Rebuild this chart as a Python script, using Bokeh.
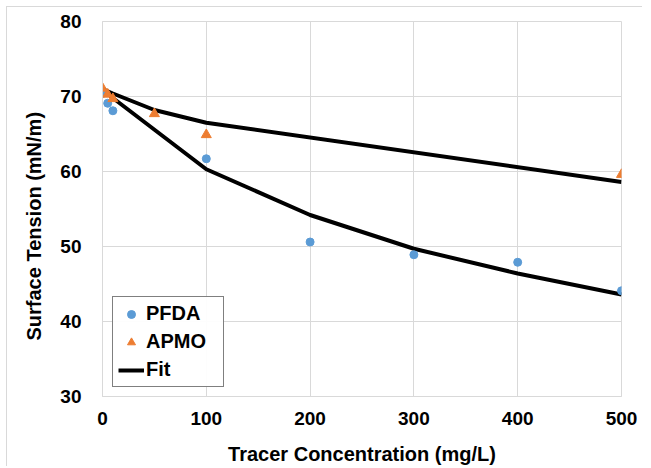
from bokeh.plotting import figure
from bokeh.models import FixedTicker, Legend, LegendItem, Range1d, Title
from bokeh.embed import file_html
from bokeh.resources import INLINE

# Data
pfda_conc = [0, 5, 10, 100, 200, 300, 400, 500]
pfda_st = [70.4, 69.1, 68.1, 61.7, 50.6, 48.9, 47.9, 44.1]
apmo_conc = [0, 5, 10, 50, 100, 500]
apmo_st = [71.1, 70.3, 69.7, 67.7, 64.9, 59.6]
fit_pfda_conc = [0, 5, 10, 100, 200, 300, 400, 500]
fit_pfda_st = [71.0, 70.4, 69.8, 60.3, 54.2, 49.7, 46.4, 43.6]
fit_apmo_conc = [0, 5, 10, 50, 100, 500]
fit_apmo_st = [71.0, 70.7, 70.4, 68.2, 66.5, 58.6]
x_ticks = [0, 100, 200, 300, 400, 500]
y_ticks = [30, 40, 50, 60, 70, 80]

FONT = "Liberation Sans"
GRID = "#d9d9d9"

p = figure(width=636, height=460, output_backend="svg", toolbar_location=None,
           x_range=Range1d(0, 500), y_range=Range1d(30, 80),
           min_border_left=95, min_border_right=22, min_border_top=14, min_border_bottom=71)
p.styles = {"margin-left": "6px", "margin-top": "6px",
            "border-left": "1px solid #d9d9d9", "border-top": "1px solid #d9d9d9"}

p.outline_line_color = GRID
p.xgrid.grid_line_color = GRID
p.ygrid.grid_line_color = GRID
p.xaxis.ticker = FixedTicker(ticks=x_ticks)
p.yaxis.ticker = FixedTicker(ticks=y_ticks)
for ax in (p.xaxis, p.yaxis):
    ax.axis_line_color = GRID
    ax.major_tick_line_color = None
    ax.minor_tick_line_color = None
    ax.major_label_text_font = FONT
    ax.major_label_text_font_style = "bold"
    ax.major_label_text_font_size = "19px"
    ax.major_label_text_color = "black"
    ax.axis_label_text_font = FONT
    ax.axis_label_text_font_style = "bold"
    ax.axis_label_text_font_size = "20px"
    ax.axis_label_text_color = "black"
p.xaxis.axis_label = "Tracer Concentration (mg/L)"
p.xaxis.major_label_standoff = 9
p.xaxis.axis_label_standoff = 15
p.yaxis.major_label_standoff = 15

ytitle = Title(text="Surface Tension (mN/m)", align="left", offset=56,
               standoff=26, text_font=FONT, text_font_style="bold",
               text_font_size="20px", text_color="black")
p.add_layout(ytitle, "left")

fit1 = p.line(fit_apmo_conc, fit_apmo_st, line_color="black", line_width=4)
fit2 = p.line(fit_pfda_conc, fit_pfda_st, line_color="black", line_width=4)
r_pfda = p.scatter(pfda_conc, pfda_st, marker="circle", size=8, fill_color="#5B9BD5", line_color="#5B9BD5")
r_apmo = p.scatter(apmo_conc, apmo_st, marker="triangle", size=10, fill_color="#ED7D31", line_color="#ED7D31")

legend = Legend(items=[LegendItem(label="PFDA", renderers=[r_pfda]),
                       LegendItem(label="APMO", renderers=[r_apmo]),
                       LegendItem(label="Fit", renderers=[fit1])],
                location=(10, 9))
legend.label_text_font = FONT
legend.label_text_font_style = "bold"
legend.label_text_font_size = "20px"
legend.label_text_color = "black"
legend.border_line_color = "black"
legend.border_line_width = 1.5
legend.padding = 5
legend.spacing = 5
legend.glyph_width = 26
legend.glyph_height = 20
legend.label_height = 20
legend.label_width = 72
legend.label_standoff = 2
legend.margin = 0
p.add_layout(legend, "center")

open("out.html", "w").write(file_html(p, INLINE))
